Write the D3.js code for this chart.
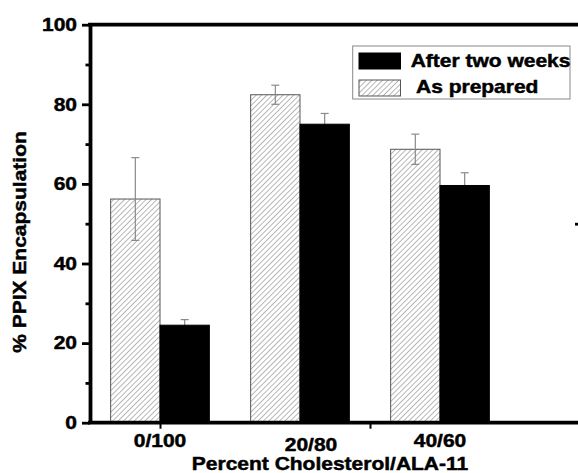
<!DOCTYPE html>
<html>
<head>
<meta charset="utf-8">
<script src="https://cdn.jsdelivr.net/npm/d3@7"></script>
<style>
  html, body { margin: 0; padding: 0; background: #fff; overflow: hidden; }
  svg { display: block; }
  text { font-family: "Liberation Sans", Arial, sans-serif; font-weight: bold; fill: #000; stroke: #000; stroke-width: 0.45px; }
</style>
</head>
<body>
<div id="chart-div"></div>
<script>
// data
var groups = ["0/100", "20/80", "40/60"];
var seriesNames = ["As prepared", "After two weeks"];
var asPrepared = [56.2, 82.4, 68.7];
var asPreparedErr = [10.4, 2.4, 3.8];
var afterTwoWeeks = [24.5, 75.0, 59.6];
var afterTwoWeeksErr = [1.4, 2.7, 3.2];
var yTicks = [0, 20, 40, 60, 80, 100];
var yMinorTicks = [10, 30, 50, 70, 90];
var xTicks = [0, 1.5];

var width = 578, height = 473;
var margin = {top: 24.7, right: -2, bottom: 50.3, left: 90};
var plotW = width - margin.left - margin.right,
    plotH = height - margin.top - margin.bottom;
var axisW = 3.8;

var svg = d3.select("#chart-div")
    .append("svg")
    .attr("width", width)
    .attr("height", height);

// hatch pattern for the "as prepared" bars
var defs = svg.append("defs");
defs.append("pattern")
    .attr("id", "hatch")
    .attr("patternUnits", "userSpaceOnUse")
    .attr("width", 3.8)
    .attr("height", 3.8)
    .attr("patternTransform", "rotate(45)")
  .append("line")
    .attr("x1", 0).attr("y1", 0)
    .attr("x2", 0).attr("y2", 3.8)
    .attr("stroke", "#6e6e6e")
    .attr("stroke-width", 1);

var g = svg.append("g")
    .attr("transform", "translate(" + margin.left + "," + margin.top + ")");

// linear x used for the axis ticks, group i sits at value i
var xLin = d3.scaleLinear()
    .domain([-0.5, 3])
    .range([0, plotW]);

var x0 = d3.scaleBand()
    .domain(groups)
    .range([xLin(-0.5), xLin(2.5)])
    .paddingInner(0.295)
    .paddingOuter(0.1475);

var x1 = d3.scaleBand()
    .domain(seriesNames)
    .range([0, x0.bandwidth()]);

var y = d3.scaleLinear()
    .domain([0, 100])
    .range([plotH, 0]);

var data = groups.map(function(grp, i) {
    return {
        group: grp,
        values: [
            {series: seriesNames[0], value: asPrepared[i], err: asPreparedErr[i]},
            {series: seriesNames[1], value: afterTwoWeeks[i], err: afterTwoWeeksErr[i]}
        ]
    };
});

var fill = function(s) { return s == seriesNames[0] ? "url(#hatch)" : "#000"; };
var edge = function(s) { return s == seriesNames[0] ? "#555" : "#000"; };

// stretched bold text helper (the original font runs wider than Arial)
function label(sel, txt, x, yy, anchor, rot) {
    return sel.append("text")
        .attr("x", 0).attr("y", 0)
        .attr("font-size", 17.5)
        .attr("text-anchor", anchor)
        .attr("transform", "translate(" + x + "," + yy + ")" + (rot ? " rotate(-90)" : "") + " scale(1.2,1)")
        .text(txt);
}

var slice = g.selectAll(".slice")
    .data(data)
    .enter().append("g")
    .attr("class", "slice")
    .attr("transform", function(d) { return "translate(" + x0(d.group) + ",0)"; });

function bars(sel, which) {
    sel.selectAll("rect." + which)
        .data(function(d) { return d.values.filter(function(v) { return (v.series == seriesNames[0]) == (which == "hatched"); }); })
      .enter().append("rect")
        .attr("class", which)
        .attr("x", function(d) { return x1(d.series); })
        .attr("width", x1.bandwidth())
        .attr("y", function(d) { return y(d.value); })
        .attr("height", function(d) { return plotH - y(d.value); })
        .style("fill", function(d) { return fill(d.series); })
        .style("stroke", function(d) { return edge(d.series); })
        .style("stroke-width", 1);
}

// hatched bars first, then error bars, then black bars on top (hides their lower whisker)
bars(slice, "hatched");

var err = slice.selectAll(".err")
    .data(function(d) { return d.values; })
  .enter().append("g")
    .attr("class", "err")
    .attr("stroke", "#8a8a8a")
    .attr("stroke-width", 1.2);

var cx = function(d) { return x1(d.series) + x1.bandwidth() / 2; };
err.append("line")
    .attr("x1", cx).attr("x2", cx)
    .attr("y1", function(d) { return y(d.value - d.err); })
    .attr("y2", function(d) { return y(d.value + d.err); });
err.append("line")
    .attr("x1", function(d) { return cx(d) - 4; })
    .attr("x2", function(d) { return cx(d) + 4; })
    .attr("y1", function(d) { return y(d.value + d.err); })
    .attr("y2", function(d) { return y(d.value + d.err); });
err.append("line")
    .attr("x1", function(d) { return cx(d) - 4; })
    .attr("x2", function(d) { return cx(d) + 4; })
    .attr("y1", function(d) { return y(d.value - d.err); })
    .attr("y2", function(d) { return y(d.value - d.err); });

bars(slice, "solid");

// frame
g.append("line").attr("x1", -axisW / 2).attr("x2", plotW).attr("y1", 0).attr("y2", 0)
    .style("stroke", "#000").style("stroke-width", axisW);
g.append("line").attr("x1", -axisW / 2).attr("x2", plotW).attr("y1", plotH).attr("y2", plotH)
    .style("stroke", "#000").style("stroke-width", axisW);

// y axis
var yAxis = g.append("g")
    .attr("class", "y axis")
    .call(d3.axisLeft(y).tickValues(yTicks).tickSize(8).tickSizeOuter(0).tickFormat(""));
yAxis.select(".domain").style("stroke-width", axisW);
yAxis.selectAll(".tick line").style("stroke-width", 2.8);

var yMinor = g.append("g")
    .call(d3.axisLeft(y).tickValues(yMinorTicks).tickSize(4.5).tickFormat(""));
yMinor.select(".domain").remove();
yMinor.selectAll(".tick line").style("stroke-width", 2.8);

yTicks.forEach(function(v) {
    label(g, v, -13, y(v) + 6.2, "end");
});

// right axis sits just past the canvas edge, only one inward tick peeks in
var yRight = g.append("g")
    .attr("transform", "translate(" + (plotW + 4) + ",0)")
    .call(d3.axisRight(y).tickValues([50]).tickSize(-9).tickSizeOuter(0).tickFormat(""));
yRight.select(".domain").style("stroke-width", axisW);
yRight.selectAll(".tick line").style("stroke-width", 2.8);

// x axis ticks
var xAxis = g.append("g")
    .attr("transform", "translate(0," + plotH + ")")
    .call(d3.axisBottom(xLin).tickValues(xTicks).tickSize(6).tickFormat(""));
xAxis.select(".domain").remove();
xAxis.selectAll(".tick line").style("stroke-width", 2);

// category labels, the middle one sits a bit off in the original
var labelNudge = [[0, 0], [11, 4.5], [0, 0]];
groups.forEach(function(grp, i) {
    label(g, grp, x0(grp) + x0.bandwidth() / 2 + labelNudge[i][0], plotH + 23.8 + labelNudge[i][1], "middle");
});

// axis titles
label(g, "Percent Cholesterol/ALA-11", 330 - margin.left, plotH + 47.3, "middle");
label(svg, "% PPIX Encapsulation", 26, 242, "middle", true);

// legend
var legend = svg.append("g").attr("class", "legend");
legend.append("rect")
    .attr("x", 352.7).attr("y", 46)
    .attr("width", 217.3).attr("height", 53)
    .attr("fill", "#fff")
    .attr("stroke", "#888")
    .attr("stroke-width", 1);

var legendOrder = [seriesNames[1], seriesNames[0]];
legend.selectAll(".swatch")
    .data(legendOrder)
    .enter().append("rect")
    .attr("class", "swatch")
    .attr("x", 359)
    .attr("y", function(d, i) { return 53 + i * 27; })
    .attr("width", 41.5)
    .attr("height", 16)
    .style("fill", function(d) { return fill(d); })
    .style("stroke", function(d) { return edge(d); });

label(legend, "After two weeks", 410.7, 66.7, "start");
label(legend, "As prepared", 416, 92.7, "start");
</script>
</body>
</html>
